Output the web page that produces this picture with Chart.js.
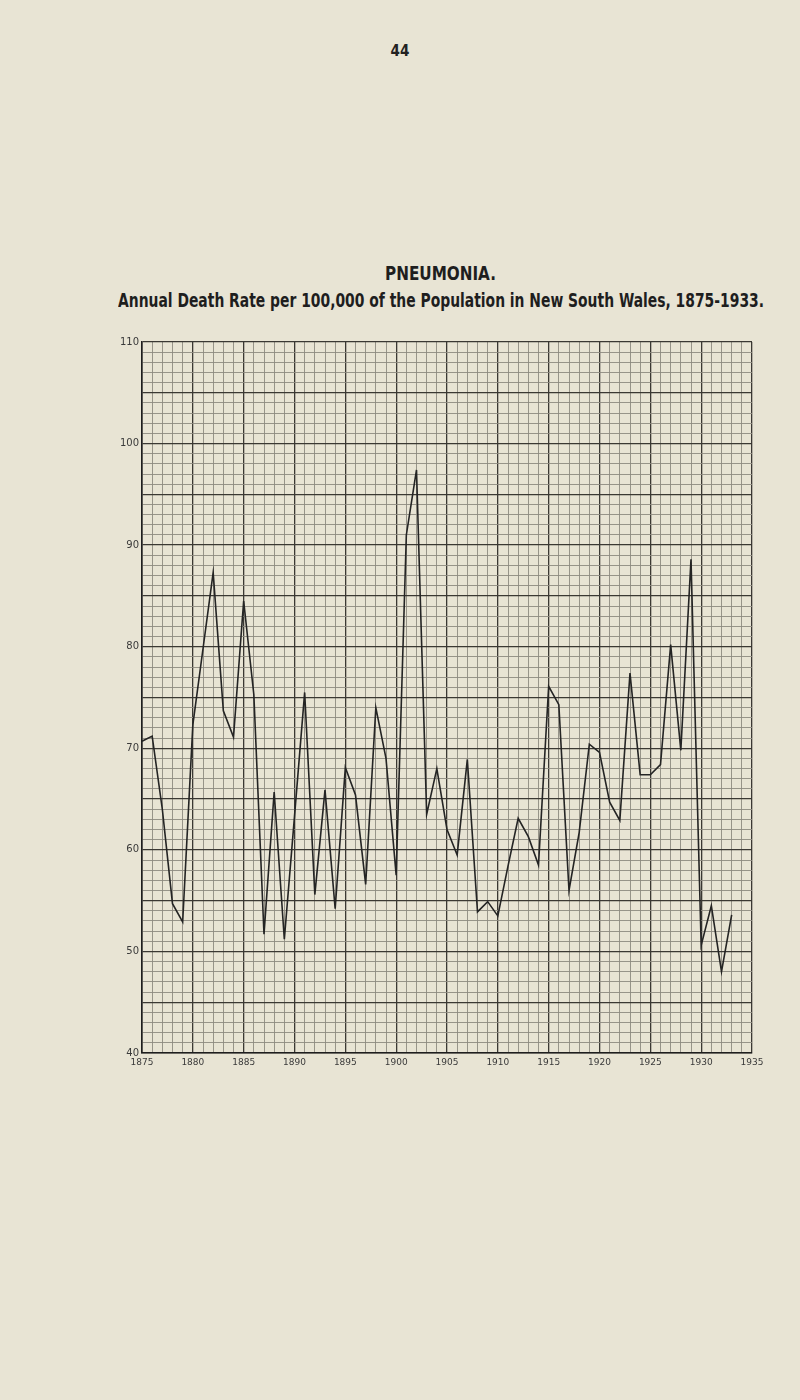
<!DOCTYPE html>
<html lang="en">
<head>
  <meta charset="UTF-8">
  <title>Pneumonia</title>
  <script src="https://cdn.jsdelivr.net/npm/chart.js"></script>
  <style>
    body { margin: 0; background: #e8e4d4; width: 800px; height: 1400px; position: relative; overflow: hidden; }
    .page-no { position: absolute; top: 42px; left: 0; width: 800px; text-align: center;
               font: bold 15px "Liberation Sans Narrow", "DejaVu Sans Condensed", sans-serif; color: #222; }
    .texto { position: absolute; white-space: nowrap; transform-origin: 0 0;
             font: bold 19px "Liberation Sans Narrow", "DejaVu Sans Condensed", sans-serif; color: #1e1e1e; }
    #caja { position: absolute; top: 0; left: 0; width: 800px; height: 1400px; }
  </style>
</head>
<body>
  <div class="page-no">44</div>
  <div class="texto" id="titulo" data-x="385" data-w="111" style="top:262px">PNEUMONIA.</div>
  <div class="texto" id="subtitulo" data-x="118" data-w="646" style="top:289px">Annual Death Rate per 100,000 of the Population in New South Wales, 1875-1933.</div>
  <div id="caja"><canvas id="grafico"></canvas></div>

  <script>
    // años y tasas
    const years = [1875, 1876, 1877, 1878, 1879, 1880, 1881, 1882, 1883, 1884,
                   1885, 1886, 1887, 1888, 1889, 1890, 1891, 1892, 1893, 1894,
                   1895, 1896, 1897, 1898, 1899, 1900, 1901, 1902, 1903, 1904,
                   1905, 1906, 1907, 1908, 1909, 1910, 1911, 1912, 1913, 1914,
                   1915, 1916, 1917, 1918, 1919, 1920, 1921, 1922, 1923, 1924,
                   1925, 1926, 1927, 1928, 1929, 1930, 1931, 1932, 1933];
    const rates = [70.7, 71.2, 64.0, 54.7, 52.9, 72.3, 79.8, 87.3, 73.7, 71.1,
                   84.5, 75.3, 51.7, 65.7, 51.2, 63.3, 75.5, 55.6, 65.9, 54.2,
                   68.1, 65.4, 56.6, 74.0, 69.0, 57.5, 91.0, 97.4, 63.5, 68.0,
                   62.0, 59.5, 68.9, 53.9, 54.9, 53.5, 58.4, 63.1, 61.3, 58.5,
                   76.1, 74.3, 56.0, 61.7, 70.4, 69.6, 64.7, 62.9, 77.4, 67.4,
                   67.4, 68.4, 80.2, 69.8, 88.6, 50.6, 54.5, 48.0, 53.6];
    const yearLabels = [1875, 1880, 1885, 1890, 1895, 1900, 1905, 1910, 1915, 1920, 1925, 1930, 1935];
    const rateLabels = [40, 50, 60, 70, 80, 90, 100, 110];

    // ajustar los titulos al ancho que tienen en el original
    document.querySelectorAll('.texto').forEach(el => {
      const ancho = el.getBoundingClientRect().width;
      el.style.left = el.dataset.x + 'px';
      el.style.transform = 'scaleX(' + (el.dataset.w / ancho) + ')';
    });

    const puntos = years.map((y, i) => ({ x: y, y: rates[i] }));

    function colorRejilla(ctx) {
      return ctx.tick.value % 5 === 0 ? '#3a3833' : '#8d8a80';
    }
    function anchoRejilla(ctx) {
      return ctx.tick.value % 5 === 0 ? 1.3 : 0.9;
    }

    new Chart(document.getElementById('grafico'), {
      type: 'line',
      data: {
        datasets: [{
          data: puntos,
          borderColor: '#242424',
          borderWidth: 1.6,
          pointRadius: 0,
          tension: 0,
          fill: false
        }]
      },
      options: {
        responsive: true,
        maintainAspectRatio: false,
        animation: false,
        layout: { padding: { left: 100, right: 48, top: 342, bottom: 325 } },
        plugins: { legend: { display: false }, tooltip: { enabled: false } },
        scales: {
          x: {
            type: 'linear',
            min: 1875,
            max: 1935,
            afterFit: s => { s.height = 22; },
            ticks: {
              stepSize: 1,
              autoSkip: false,
              maxRotation: 0,
              padding: 4,
              color: '#3a3a3a',
              font: { family: 'DejaVu Sans', size: 9 },
              callback: v => yearLabels.includes(v) ? String(v) : ''
            },
            grid: { color: colorRejilla, lineWidth: anchoRejilla, drawTicks: false },
            border: { display: true, color: '#1e1e1e', width: 1.6 }
          },
          y: {
            min: 40,
            max: 110,
            afterFit: s => { s.width = 42; },
            ticks: {
              stepSize: 1,
              autoSkip: false,
              padding: 3,
              color: '#3a3a3a',
              font: { family: 'DejaVu Sans', size: 10 },
              callback: v => rateLabels.includes(v) ? String(v) : ''
            },
            grid: { color: colorRejilla, lineWidth: anchoRejilla, drawTicks: false },
            border: { display: true, color: '#1e1e1e', width: 1.6 }
          }
        }
      }
    });
  </script>
</body>
</html>
